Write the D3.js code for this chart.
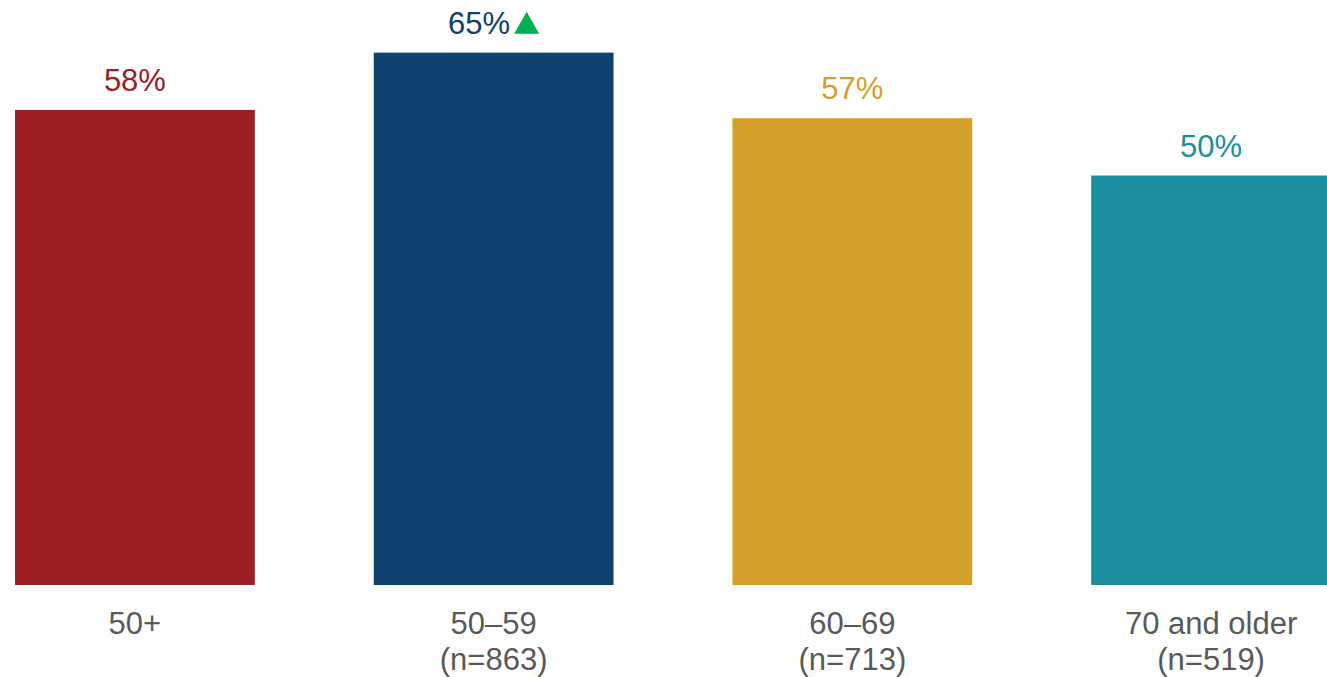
<!DOCTYPE html>
<html>
<head>
<meta charset="utf-8">
<script src="https://cdn.jsdelivr.net/npm/d3@7"></script>
<style>
  html, body { margin: 0; padding: 0; background: #fff; }
  svg { display: block; }
  text { font-family: "Liberation Sans", Arial, sans-serif; }
</style>
</head>
<body>
<svg id="chart" width="1327" height="677"></svg>
<script>
const categories = ["50+", "50–59", "60–69", "70 and older"];
const subLabels = ["", "(n=863)", "(n=713)", "(n=519)"];
const values = [58, 65, 57, 50];
const significant = [false, true, false, false];
const colors = ["#9B2023", "#0F416F", "#D4A02B", "#1B8FA0"];

const svg = d3.select("#chart");
const baseline = 585;

const x = d3.scaleBand()
  .domain(categories)
  .range([15, 1331])
  .paddingInner(0.3315)
  .paddingOuter(0);

const y = d3.scaleLinear()
  .domain([0, 100])
  .range([baseline, baseline - 819]);

const g = svg.append("g");

g.selectAll("rect.bar")
  .data(categories)
  .join("rect")
  .attr("class", "bar")
  .attr("x", d => x(d))
  .attr("width", x.bandwidth())
  .attr("y", (d, i) => y(values[i]))
  .attr("height", (d, i) => y(0) - y(values[i]))
  .attr("fill", (d, i) => colors[i]);

// value labels
categories.forEach((c, i) => {
  const cx = x(c) + x.bandwidth() / 2;
  const by = y(values[i]) - 19;
  const t = g.append("text")
    .attr("y", by)
    .attr("font-size", 31)
    .attr("fill", colors[i])
    .text(values[i] + "%");
  const tw = t.node().getComputedTextLength();
  if (significant[i]) {
    const triW = 25, triH = 22, gap = 4;
    const total = tw + gap + triW;
    const left = cx - total / 2;
    t.attr("x", left).attr("text-anchor", "start");
    const tx = left + tw + gap;
    g.append("path")
      .attr("d", `M${tx},${by} L${tx + triW},${by} L${tx + triW / 2},${by - triH} Z`)
      .attr("fill", "#00B050");
  } else {
    t.attr("x", cx).attr("text-anchor", "middle");
  }
});

// category labels
categories.forEach((c, i) => {
  const cx = x(c) + x.bandwidth() / 2;
  const t = g.append("text")
    .attr("x", cx)
    .attr("y", baseline + 49)
    .attr("text-anchor", "middle")
    .attr("font-size", 31)
    .attr("fill", "#595959");
  t.append("tspan").attr("x", cx).text(c);
  if (subLabels[i]) {
    t.append("tspan").attr("x", cx).attr("dy", 36).text(subLabels[i]);
  }
});
</script>
</body>
</html>
